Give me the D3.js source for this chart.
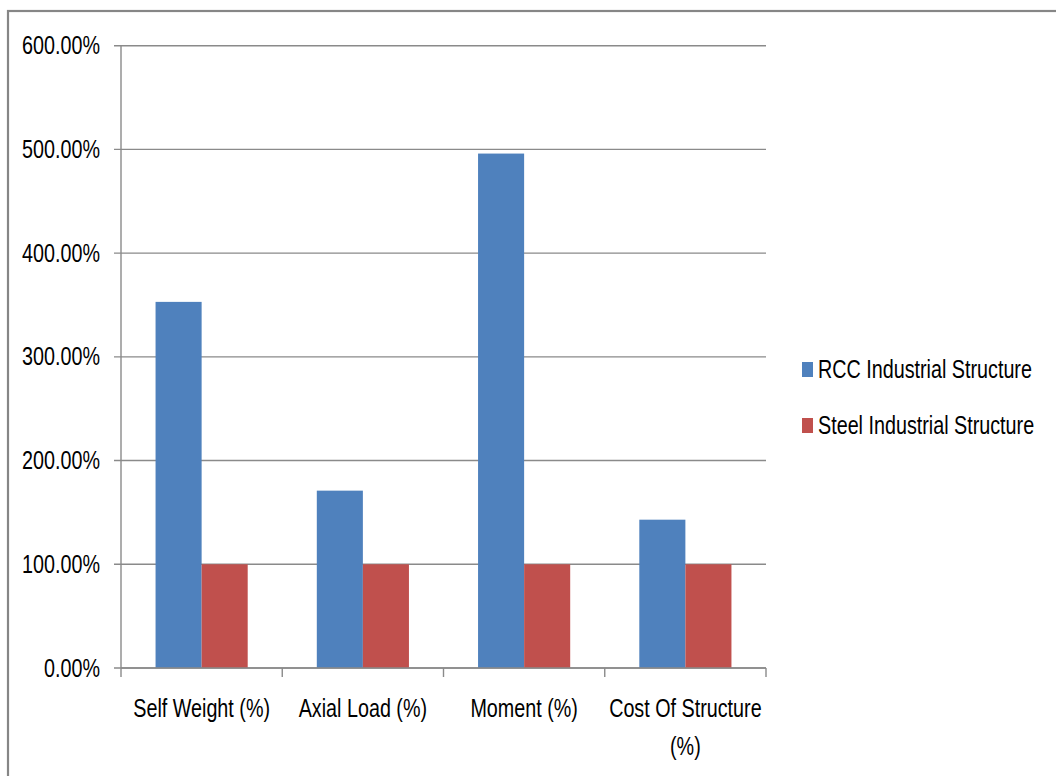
<!DOCTYPE html>
<html>
<head>
<meta charset="utf-8">
<script src="https://cdn.jsdelivr.net/npm/d3@7"></script>
<style>
  html, body { margin: 0; padding: 0; background: #fff; }
  svg { display: block; }
  text { font-family: "Liberation Sans", Arial, sans-serif; fill: #000; }
</style>
</head>
<body>
<svg id="chart" width="1056" height="776"></svg>
<script>
const categories = ["Self Weight (%)", "Axial Load (%)", "Moment (%)", "Cost Of Structure (%)"];
const seriesNames = ["RCC Industrial Structure", "Steel Industrial Structure"];
const rccValues = [3.53, 1.71, 4.96, 1.43];
const steelValues = [1.00, 1.00, 1.00, 1.00];
const yTicks = [0, 1, 2, 3, 4, 5, 6];
const colors = ["#4F81BD", "#C0504D"];

const svg = d3.select("#chart");
const W = 1056, H = 776;
const SX = 0.79;      // horizontal condensing of text
const FS = 25;

function label(parent, x, y, str, anchor) {
  const g = parent.append("g").attr("transform", `translate(${x},${y}) scale(${SX},1)`);
  g.append("text").attr("text-anchor", anchor || "start").attr("font-size", FS).text(str);
  return g;
}

// outer chart border (extends past the window)
svg.append("rect")
  .attr("x", 8).attr("y", 11)
  .attr("width", W + 20).attr("height", H + 20)
  .attr("fill", "none").attr("stroke", "#868686").attr("stroke-width", 2.2);

const plot = { left: 121, right: 766, top: 45.7, bottom: 668 };

const x = d3.scaleBand().domain(categories).range([plot.left, plot.right]).paddingInner(0).paddingOuter(0);
const y = d3.scaleLinear().domain([0, 6]).range([plot.bottom, plot.top]);

const bw = x.bandwidth() / 3.5;
const x1 = d3.scaleBand().domain(seriesNames).range([bw * 0.75, bw * 2.75]).padding(0);

const gridColor = "#8a8a8a";

// gridlines with left ticks
svg.append("g").selectAll("line").data(yTicks).join("line")
  .attr("x1", plot.left - 7).attr("x2", plot.right)
  .attr("y1", d => y(d)).attr("y2", d => y(d))
  .attr("stroke", gridColor).attr("stroke-width", 1.4);

// y tick labels
const yl = svg.append("g");
yTicks.forEach(d => label(yl, 100, y(d) + 8.5, d3.format(".2%")(d), "end"));

// bars
const data = categories.map((c, i) => ({ cat: c, vals: [rccValues[i], steelValues[i]] }));
const groups = svg.append("g").selectAll("g").data(data).join("g")
  .attr("transform", d => `translate(${x(d.cat)},0)`);
groups.selectAll("rect").data(d => d.vals.map((v, j) => ({ name: seriesNames[j], v, j }))).join("rect")
  .attr("x", d => x1(d.name))
  .attr("width", x1.bandwidth())
  .attr("y", d => y(d.v))
  .attr("height", d => y(0) - y(d.v))
  .attr("fill", d => colors[d.j]);

// y axis line
svg.append("line")
  .attr("x1", plot.left).attr("x2", plot.left)
  .attr("y1", plot.top).attr("y2", plot.bottom)
  .attr("stroke", gridColor).attr("stroke-width", 1.4);

// x axis line and ticks
svg.append("line")
  .attr("x1", plot.left).attr("x2", plot.right)
  .attr("y1", plot.bottom).attr("y2", plot.bottom)
  .attr("stroke", gridColor).attr("stroke-width", 1.4);
const boundaries = categories.map(c => x(c)).concat([plot.right]);
svg.append("g").selectAll("line").data(boundaries).join("line")
  .attr("x1", d => d).attr("x2", d => d)
  .attr("y1", plot.bottom).attr("y2", plot.bottom + 9)
  .attr("stroke", gridColor).attr("stroke-width", 1.4);

// x labels (wrap long one)
const xl = svg.append("g");
categories.forEach(d => {
  const cx = x(d) + x.bandwidth() / 2;
  const lines = d === "Cost Of Structure (%)" ? ["Cost Of Structure", "(%)"] : [d];
  lines.forEach((ln, k) => label(xl, cx, 717 + k * 38, ln, "middle"));
});

// legend
const legend = svg.append("g").selectAll("g").data(seriesNames).join("g")
  .attr("transform", (d, i) => `translate(802, ${362 + i * 56})`);
legend.append("rect").attr("x", 0).attr("y", 0).attr("width", 11).attr("height", 15)
  .attr("fill", (d, i) => colors[i]);
legend.each(function(d) { label(d3.select(this), 16, 15.5, d, "start"); });
</script>
</body>
</html>
